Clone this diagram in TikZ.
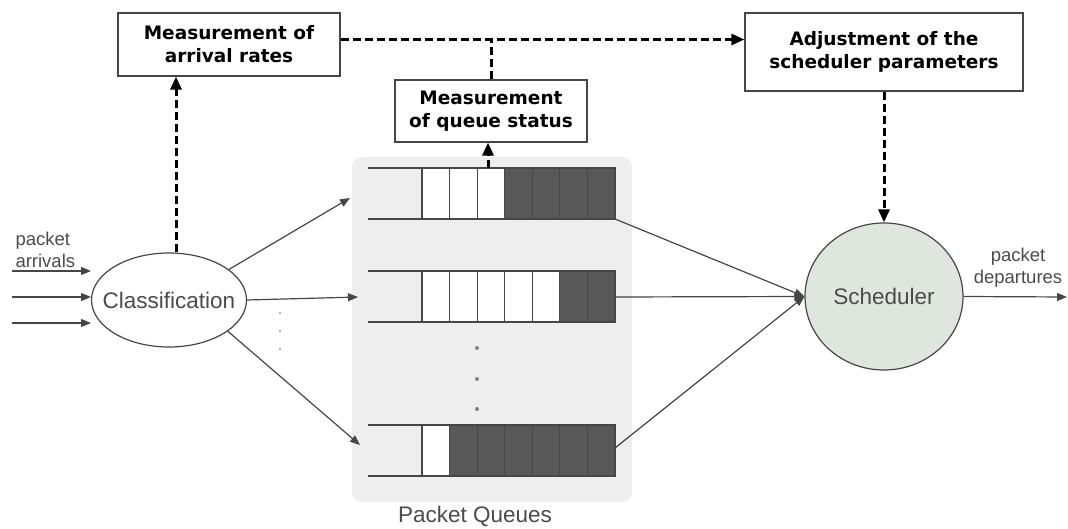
\documentclass[tikz,border=0pt]{standalone}
\usepackage{fontspec}
\setmainfont{Liberation Sans}
\newfontfamily\boxfont{DejaVu Sans}
\usetikzlibrary{arrows.meta,shapes.geometric}
\definecolor{panelgray}{RGB}{238,238,238}
\definecolor{schedfill}{RGB}{222,230,222}
\definecolor{cellgray}{RGB}{88,88,88}
\definecolor{linegray}{RGB}{70,70,70}
\definecolor{textgray}{RGB}{75,75,75}
\tikzset{
  measbox/.style={draw=linegray, line width=1.2pt, fill=white, align=center, inner sep=0pt,
    font=\boxfont\bfseries\fontsize{18.5}{23}\selectfont},
  ctrl/.style={line width=3pt, dash pattern=on 8pt off 4pt, -{Triangle[length=13pt,width=11pt]}},
  ctrlplain/.style={line width=3pt, dash pattern=on 8pt off 4pt},
  flow/.style={line width=1.2pt, draw=linegray, -{Triangle[length=10pt,width=8pt]}},
  smalltext/.style={font=\fontsize{18.5}{22}\selectfont, text=textgray},
  bigtext/.style={font=\fontsize{22.5}{26}\selectfont, text=textgray},
  oval/.style={ellipse, draw=linegray, line width=1.2pt, inner sep=0pt},
  qcell/.style={draw=linegray, line width=1.2pt},
  qline/.style={draw=linegray, line width=2pt},
}
\begin{document}
\begin{tikzpicture}[x=1pt,y=-1pt]
\useasboundingbox (0,0) rectangle (1068,529);
% queue panel
\node[fill=panelgray, rounded corners=10pt, minimum width=280, minimum height=345] (panel) at (492,329.5) {};
\node[bigtext] (pqlabel) at (475,516) {Packet Queues};
% control boxes
\node[measbox, minimum width=222, minimum height=63] (arrival) at (229,44.5) {Measurement of\\arrival rates};
\node[measbox, minimum width=192, minimum height=62] (qstat) at (491,111) {Measurement\\of queue status};
\node[measbox, minimum width=278, minimum height=78] (adjust) at (884,52) {Adjustment of the\\scheduler parameters};
% classifier and scheduler
\node[oval, fill=white, minimum width=155, minimum height=94] (class) at (169,300) {};
\node[bigtext] (classtext) at (class) {Classification};
\node[oval, fill=schedfill, minimum width=158, minimum height=147] (sched) at (884,296.5) {};
\node[bigtext] (schedtext) at (sched) {Scheduler};
% queues
\foreach \qy/\nwhite in {168/3,271/5,425/1}{
  \foreach \i in {0,...,6}{
    \pgfmathsetmacro\xl{422+27.57*\i}
    \ifnum\i<\nwhite \def\cellcol{white}\else\def\cellcol{cellgray}\fi
    \draw[qcell, fill=\cellcol] (\xl,\qy) rectangle ++(27.57,51);
  }
  \draw[qline] (368,\qy) -- (615,\qy) (368,\qy+51) -- (615,\qy+51);
}
\coordinate (q1) at (615,219);
\coordinate (q2) at (615,297);
\coordinate (q3) at (615,448);
\coordinate (q1top) at (488,168);
\coordinate (c1) at (350,198);
\coordinate (c2) at (358,297);
\coordinate (c3) at (360,445);
% dots
\foreach \dy in {313,331,349} \fill[gray!60] (280,\dy) circle (1.3);
\foreach \dy in {348,379,409} \fill[gray] (477,\dy) circle (2);
% inputs and output
\coordinate (in1) at (12,271);
\coordinate (in2) at (12,297);
\coordinate (in3) at (12,323);
\draw[flow] (in1) -- (91,271);
\draw[flow] (in2) -- (91,297);
\draw[flow] (in3) -- (91,323);
\node[smalltext, anchor=west, align=left] (arrlabel) at (12,250) {packet\\arrivals};
\coordinate (out) at (1067,297);
\draw[flow] (sched.east) -- (out);
\node[smalltext, align=center] (deplabel) at (1018,268) {packet\\departures};
% classification to queues
\draw[flow] (class.27) -- (c1);
\draw[flow] (class.east) -- (c2);
\draw[flow] (class.-28) -- (c3);
% queues to scheduler
\draw[flow] (q1) -- (sched.west);
\draw[flow] (q2) -- (sched.west);
\draw[flow] (q3) -- (sched.west);
% measurement feedback
\coordinate (ratein) at ([yshift=5pt]arrival.east);
\draw[ctrl] ([xshift=7pt]class.north) -- ([xshift=7pt]class.north |- arrival.south);
\draw[ctrl] (q1top) -- (q1top |- qstat.south);
\draw[ctrlplain] (qstat.north) -- (qstat.north |- ratein);
\draw[ctrl] (ratein) -- (ratein -| adjust.west);
\draw[ctrl] (adjust.south) -- (sched.north);
\end{tikzpicture}
\end{document}
